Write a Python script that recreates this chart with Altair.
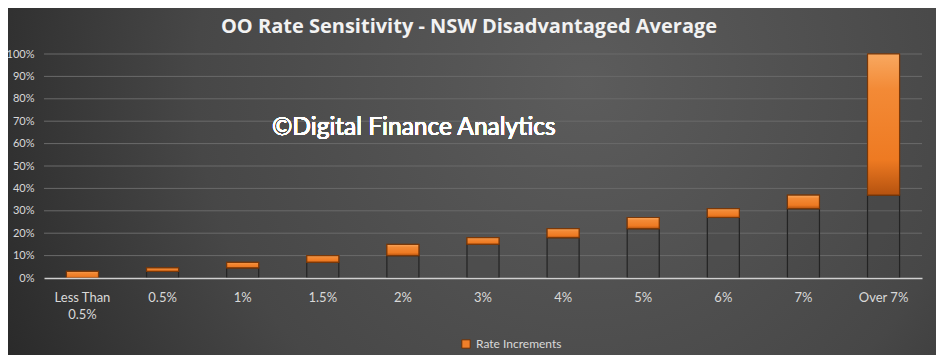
import altair as alt
import pandas as pd

categories = ["Less Than 0.5%", "0.5%", "1%", "1.5%", "2%", "3%", "4%", "5%", "6%", "7%", "Over 7%"]
starts = [0.00, 0.03, 0.045, 0.07, 0.10, 0.15, 0.18, 0.22, 0.27, 0.31, 0.37]
ends = [0.03, 0.045, 0.07, 0.10, 0.15, 0.18, 0.22, 0.27, 0.31, 0.37, 1.00]
tick_values = [0.0, 0.1, 0.2, 0.3, 0.4, 0.5, 0.6, 0.7, 0.8, 0.9, 1.0]
series_name = "Rate Increments"
title_text = "OO Rate Sensitivity - NSW Disadvantaged Average"
watermark = "©Digital Finance Analytics"

df = pd.DataFrame({"cat": categories, "start": starts, "end": ends, "series": series_name})
grid_df = pd.DataFrame({"v": tick_values[1:]})

W, H = 878, 224
FONT = "Lato"

xenc = alt.X("cat:N", sort=categories, title=None,
             scale=alt.Scale(paddingInner=0.6, paddingOuter=0.28),
             axis=alt.Axis(labelAngle=0, labelColor="#d9d9d9", labelFontSize=13, labelFont=FONT,
                           labelPadding=13, labelLineHeight=17, ticks=False, domainColor="#d0d0d0",
                           domainWidth=1.5, grid=False, zindex=2, labelOverlap=False,
                           labelExpr="datum.label == 'Less Than 0.5%' ? ['Less Than', '0.5%'] : datum.label"))
yscale = alt.Scale(domain=[0, 1], nice=False)
yaxis = alt.Axis(format=".0%", values=tick_values, tickCount=11, labelColor="#d9d9d9",
                 labelFontSize=11, labelFont=FONT, ticks=False, domain=False,
                 labelPadding=10, grid=False, zindex=2, labelOverlap=False)

bg = alt.Chart(df).mark_rect(
    fill=alt.Gradient(gradient="radial", x1=0.62, y1=0.4, r1=0.0, x2=0.62, y2=0.4, r2=0.75,
                      stops=[alt.GradientStop(color="#5c5c5c", offset=0),
                             alt.GradientStop(color="#474747", offset=0.55),
                             alt.GradientStop(color="#222222", offset=1)])
).encode(x=alt.value(-44), x2=alt.value(W + 22), y=alt.value(-54), y2=alt.value(H + 77))

grid = alt.Chart(grid_df).mark_rule(color="#6a6a6a", strokeWidth=1).encode(
    y=alt.Y("v:Q", scale=yscale, axis=yaxis, title=None), x=alt.value(0), x2=alt.value(W))

base = alt.Chart(df).mark_bar(fill="#3a3a3a", fillOpacity=0.15, stroke="#232323", strokeWidth=1.2).encode(
    x=xenc,
    y=alt.Y("start:Q", scale=yscale, title=None, axis=yaxis),
    y2=alt.datum(0),
)

inc_legend = alt.Chart(df).mark_bar(stroke="#6b3008", strokeWidth=1).encode(
    x=xenc,
    y=alt.Y("start:Q", scale=yscale, title=None, axis=yaxis),
    y2="end:Q",
    color=alt.Color("series:N", title=None,
                    scale=alt.Scale(range=["#f07f2a"]),
                    legend=alt.Legend(orient="none", legendX=416, legendY=284, symbolType="square",
                                      symbolSize=70, labelColor="#d9d9d9", labelFontSize=12,
                                      labelFont=FONT, symbolStrokeColor="#6b3008",
                                      symbolStrokeWidth=1, zindex=2)),
)

inc_grad = alt.Chart(df).mark_bar(
    fill=alt.Gradient(gradient="linear", x1=0, y1=0, x2=0, y2=1,
                      stops=[alt.GradientStop(color="#f8a860", offset=0),
                             alt.GradientStop(color="#f38a36", offset=0.25),
                             alt.GradientStop(color="#ee7a22", offset=0.75),
                             alt.GradientStop(color="#b5520f", offset=1)]),
    stroke="#7a3808", strokeWidth=1.2,
).encode(x=xenc, y=alt.Y("start:Q", scale=yscale, title=None, axis=yaxis), y2="end:Q")

wm = alt.Chart(df).mark_text(text=watermark, font=FONT, fontSize=24.5, color="#ffffff", align="left",
                             baseline="middle").encode(x=alt.value(228), y=alt.value(74))

chart = alt.layer(bg, grid, base, inc_legend, inc_grad, wm).properties(
    width=W, height=H,
    title=alt.Title(title_text, font="Open Sans", fontSize=20, fontWeight="bold", color="#f2f2f2",
                    anchor="middle", offset=-37, dx=-14, zindex=2),
    autosize=alt.AutoSizeParams(type="none"),
    padding={"left": 36, "top": 46, "right": 14, "bottom": 77},
    background="#3a3a3a",
).configure_view(stroke=None)

chart.save("out.html", embed_options={"renderer": "svg", "actions": False})
